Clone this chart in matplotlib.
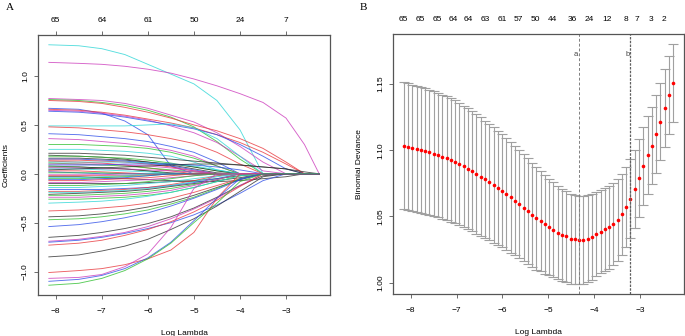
import numpy as np
import matplotlib
matplotlib.use('Agg')
import matplotlib.pyplot as plt

plt.rcParams['font.family'] = ['Liberation Sans', 'DejaVu Sans']
font_size = 6

# ---------------- panel A : lasso coefficient paths ----------------
# coefficient values at these log(lambda) knots
# (a path is zero from its last listed value onwards)
knots = [-8.15, -7.5, -7.0, -6.5, -6.0, -5.5, -5.0, -4.5, -4.0, -3.5, -3.0, -2.6, -2.28]
coef_paths = [
    [1.32, 1.31, 1.28, 1.22, 1.12, 1.02, 0.92, 0.75, 0.45, 0.0],
    [1.14, 1.13, 1.12, 1.10, 1.07, 1.03, 0.97, 0.90, 0.82, 0.73, 0.57, 0.30, 0.0],
    [0.77, 0.76, 0.75, 0.72, 0.67, 0.60, 0.53, 0.42, 0.28, 0.12, 0.0],
    [0.76, 0.75, 0.73, 0.70, 0.65, 0.58, 0.48, 0.33, 0.15, 0.0],
    [0.75, 0.74, 0.72, 0.68, 0.63, 0.57, 0.50, 0.44, 0.36, 0.26, 0.12, 0.0],
    [0.67, 0.66, 0.62, 0.54, 0.40, 0.08, 0.0],
    [0.66, 0.65, 0.63, 0.60, 0.56, 0.52, 0.47, 0.40, 0.32, 0.22, 0.10, 0.0],
    [0.65, 0.64, 0.62, 0.59, 0.55, 0.49, 0.42, 0.32, 0.18, 0.03, 0.0],
    [0.64, 0.63, 0.61, 0.58, 0.54, 0.50, 0.46, 0.40, 0.30, 0.18, 0.05, 0.0],
    [0.49, 0.49, 0.49, 0.49, 0.50, 0.51, 0.47, 0.36, 0.18, 0.0],
    [0.48, 0.47, 0.45, 0.43, 0.40, 0.36, 0.31, 0.22, 0.10, 0.0],
    [0.41, 0.40, 0.38, 0.36, 0.33, 0.28, 0.22, 0.12, 0.0],
    [0.36, 0.35, 0.33, 0.31, 0.28, 0.24, 0.18, 0.08, 0.0],
    [0.30, 0.30, 0.29, 0.28, 0.26, 0.22, 0.16, 0.08, 0.0],
    [0.25, 0.25, 0.24, 0.23, 0.21, 0.18, 0.12, 0.04, 0.0],
    [0.21, 0.21, 0.20, 0.19, 0.17, 0.15, 0.13, 0.11, 0.09, 0.07, 0.05, 0.02, 0.0],
    [0.19, 0.18, 0.17, 0.15, 0.12, 0.09, 0.05, 0.01, 0.0],
    [0.18, 0.18, 0.17, 0.16, 0.14, 0.11, 0.07, 0.03, 0.0],
    [0.16, 0.16, 0.15, 0.14, 0.12, 0.10, 0.07, 0.03, 0.0],
    [0.15, 0.15, 0.14, 0.13, 0.11, 0.08, 0.04, 0.0],
    [0.14, 0.14, 0.13, 0.12, 0.10, 0.07, 0.03, 0.0],
    [0.13, 0.12, 0.11, 0.09, 0.06, 0.03, 0.0],
    [0.12, 0.12, 0.12, 0.12, 0.11, 0.10, 0.08, 0.04, 0.0],
    [0.11, 0.10, 0.09, 0.08, 0.06, 0.04, 0.02, 0.0],
    [0.10, 0.10, 0.10, 0.09, 0.08, 0.06, 0.03, 0.0],
    [0.09, 0.09, 0.09, 0.10, 0.10, 0.10, 0.09, 0.07, 0.04, 0.0],
    [0.08, 0.07, 0.06, 0.05, 0.03, 0.0],
    [0.07, 0.07, 0.06, 0.05, 0.03, 0.01, 0.0],
    [0.06, 0.06, 0.05, 0.05, 0.04, 0.03, 0.02, 0.0],
    [0.05, 0.05, 0.04, 0.03, 0.02, 0.0],
    [0.04, 0.05, 0.06, 0.07, 0.08, 0.09, 0.10, 0.10, 0.09, 0.07, 0.05, 0.0],
    [0.03, 0.03, 0.02, 0.01, 0.0],
    [0.02, 0.01, 0.0],
    [0.01, 0.01, 0.01, 0.0],
    [-0.01, -0.01, -0.01, 0.0],
    [-0.02, -0.02, -0.02, -0.02, -0.01, 0.0],
    [-0.03, -0.03, -0.04, -0.05, -0.06, -0.07, -0.08, -0.08, -0.07, -0.05, -0.03, 0.0],
    [-0.04, -0.04, -0.03, -0.02, 0.0],
    [-0.05, -0.05, -0.04, -0.03, -0.02, 0.0],
    [-0.06, -0.06, -0.05, -0.04, -0.02, 0.0],
    [-0.07, -0.07, -0.06, -0.05, -0.04, -0.02, 0.0],
    [-0.09, -0.09, -0.08, -0.07, -0.06, -0.04, -0.02, 0.0],
    [-0.10, -0.10, -0.10, -0.10, -0.09, -0.08, -0.07, -0.05, -0.02, 0.0],
    [-0.12, -0.12, -0.11, -0.10, -0.08, -0.05, -0.02, 0.0],
    [-0.14, -0.14, -0.13, -0.12, -0.10, -0.08, -0.05, -0.02, 0.0],
    [-0.16, -0.16, -0.16, -0.15, -0.14, -0.12, -0.09, -0.05, 0.0],
    [-0.18, -0.18, -0.17, -0.16, -0.14, -0.11, -0.07, -0.02, 0.0],
    [-0.19, -0.19, -0.18, -0.17, -0.15, -0.12, -0.08, -0.03, 0.0],
    [-0.21, -0.20, -0.19, -0.18, -0.16, -0.13, -0.10, -0.07, -0.04, 0.0],
    [-0.22, -0.22, -0.21, -0.20, -0.18, -0.15, -0.11, -0.06, 0.0],
    [-0.24, -0.24, -0.23, -0.22, -0.20, -0.17, -0.12, -0.06, 0.0],
    [-0.26, -0.26, -0.25, -0.24, -0.22, -0.19, -0.14, -0.08, -0.02, 0.0],
    [-0.30, -0.29, -0.28, -0.26, -0.23, -0.19, -0.14, -0.08, -0.02, 0.0],
    [-0.38, -0.37, -0.35, -0.33, -0.30, -0.25, -0.19, -0.12, -0.05, 0.0],
    [-0.44, -0.43, -0.41, -0.38, -0.34, -0.29, -0.22, -0.14, -0.06, 0.0],
    [-0.47, -0.46, -0.44, -0.41, -0.37, -0.31, -0.24, -0.15, -0.05, 0.0],
    [-0.54, -0.52, -0.49, -0.45, -0.40, -0.33, -0.25, -0.16, -0.06, 0.0],
    [-0.65, -0.63, -0.60, -0.56, -0.51, -0.44, -0.35, -0.24, -0.12, -0.02, 0.0],
    [-0.69, -0.67, -0.64, -0.60, -0.54, -0.46, -0.36, -0.25, -0.12, 0.0],
    [-0.70, -0.68, -0.65, -0.61, -0.56, -0.50, -0.42, -0.32, -0.20, -0.07, 0.0],
    [-0.73, -0.71, -0.68, -0.63, -0.57, -0.49, -0.39, -0.27, -0.13, 0.0],
    [-0.85, -0.83, -0.79, -0.74, -0.67, -0.57, -0.46, -0.33, -0.18, -0.03, 0.0],
    [-1.01, -0.99, -0.97, -0.93, -0.87, -0.78, -0.60, -0.25, 0.0],
    [-1.07, -1.06, -1.03, -0.95, -0.82, -0.55, -0.15, 0.0],
    [-1.10, -1.08, -1.04, -0.97, -0.86, -0.70, -0.48, -0.25, -0.05, 0.0],
    [-1.14, -1.12, -1.07, -0.99, -0.87, -0.71, -0.50, -0.30, -0.08, 0.0],
]
path_colors = list('cmmgrbrmbcrbmgckkgkbrrcgmbgkmckrbgmrkcgbrmkgcbrckgmgcrkgbkmbrkrmbgg')
top_at_a = [-8, -7, -6, -5, -4, -3]
top_df_a = ['65', '64', '61', '50', '24', '7']

# ---------------- panel B : cross-validation curve ----------------
log_lambda = [-8.150, -8.057, -7.964, -7.870, -7.777, -7.684, -7.591, -7.498,
              -7.405, -7.311, -7.218, -7.125, -7.032, -6.939, -6.846, -6.752,
              -6.659, -6.566, -6.473, -6.380, -6.287, -6.193, -6.100, -6.007,
              -5.914, -5.821, -5.728, -5.634, -5.541, -5.448, -5.355, -5.262,
              -5.169, -5.075, -4.982, -4.889, -4.796, -4.703, -4.610, -4.516,
              -4.423, -4.330, -4.237, -4.144, -4.051, -3.957, -3.864, -3.771,
              -3.678, -3.585, -3.491, -3.398, -3.305, -3.212, -3.119, -3.026,
              -2.933, -2.839, -2.746, -2.653, -2.560, -2.467, -2.374, -2.280]
cv_mean = [1.1033, 1.1025, 1.1018, 1.1010, 1.1003, 1.0995, 1.0985, 1.0975,
           1.0965, 1.0952, 1.0939, 1.0927, 1.0912, 1.0894, 1.0879, 1.0861,
           1.0841, 1.0821, 1.0801, 1.0780, 1.0760, 1.0740, 1.0717, 1.0694,
           1.0669, 1.0644, 1.0619, 1.0593, 1.0566, 1.0540, 1.0513, 1.0487,
           1.0465, 1.0439, 1.0419, 1.0399, 1.0376, 1.0361, 1.0349, 1.0333,
           1.0326, 1.0323, 1.0323, 1.0331, 1.0346, 1.0369, 1.0386, 1.0402,
           1.0419, 1.0444, 1.0475, 1.0518, 1.0573, 1.0634, 1.0707, 1.0790,
           1.0879, 1.0962, 1.1035, 1.1121, 1.1217, 1.1316, 1.1419, 1.1510]
cv_sd = [0.0480, 0.0480, 0.0478, 0.0478, 0.0477, 0.0473, 0.0472, 0.0470,
         0.0470, 0.0468, 0.0467, 0.0466, 0.0465, 0.0461, 0.0458, 0.0457,
         0.0453, 0.0451, 0.0447, 0.0443, 0.0439, 0.0437, 0.0432, 0.0427,
         0.0424, 0.0419, 0.0414, 0.0409, 0.0404, 0.0399, 0.0394, 0.0388,
         0.0380, 0.0372, 0.0365, 0.0358, 0.0352, 0.0347, 0.0343, 0.0340,
         0.0337, 0.0335, 0.0333, 0.0328, 0.0323, 0.0318, 0.0316, 0.0315,
         0.0313, 0.0311, 0.0308, 0.0306, 0.0303, 0.0300, 0.0298, 0.0295,
         0.0293, 0.0293, 0.0293, 0.0293, 0.0293, 0.0295, 0.0295, 0.0295]
top_at_b = [-8.17, -7.78, -7.43, -7.07, -6.74, -6.37, -6.00, -5.65, -5.28,
            -4.91, -4.48, -4.11, -3.72, -3.30, -3.07, -2.76, -2.48]
top_df_b = ['65', '65', '65', '64', '64', '63', '61', '57', '50',
            '44', '36', '24', '12', '8', '7', '3', '2']
idx_min = 41
idx_1se = 53

colmap = {'k': '#303030', 'r': '#e8383d', 'g': '#2fbf2f', 'b': '#2f4fe8',
          'c': '#2fd6d6', 'm': '#cc3cbc'}
axis_col = '#555555'


def style_axes(ax):
    for sp in ax.spines.values():
        sp.set_color(axis_col)
        sp.set_linewidth(0.9)
    ax.tick_params(direction='out', length=3, width=0.6, color=axis_col,
                   labelsize=font_size, pad=6.5)
    ax.tick_params(axis='y', labelrotation=90, pad=3.5)
    for lab in ax.get_yticklabels():
        lab.set_va('center')


fig = plt.figure(figsize=(6.85, 3.36), dpi=100)

# panel A
axA = fig.add_axes([38 / 685, 41 / 336, 292 / 685, 260 / 336])
for vals, c in zip(coef_paths, path_colors):
    y = vals + [0.0] * (len(knots) - len(vals))
    axA.plot(knots, y, color=colmap[c], lw=0.65, alpha=0.8)
axA.set_xlim(-8.385, -2.045)
axA.set_ylim(-1.24, 1.42)
axA.set_xticks([-8, -7, -6, -5, -4, -3])
axA.set_yticks([-1.0, -0.5, 0.0, 0.5, 1.0])
axA.set_yticklabels(['\u22121.0', '\u22120.5', '0.0', '0.5', '1.0'])
style_axes(axA)
axA.set_xlabel('Log Lambda', fontsize=font_size, labelpad=11)
axA.set_ylabel('Coefficients', fontsize=font_size, labelpad=9)
topA = axA.secondary_xaxis('top')
topA.set_xticks(top_at_a, top_df_a)
topA.tick_params(direction='out', length=3, width=0.6, color=axis_col,
                 labelsize=font_size, pad=5)
topA.spines['top'].set_visible(False)

# panel B
axB = fig.add_axes([393 / 685, 42 / 336, 291 / 685, 260 / 336])
axB.errorbar(log_lambda, cv_mean, yerr=cv_sd, fmt='none', ecolor='#a0a0a0',
             elinewidth=0.8, capsize=3.9, capthick=0.8)
axB.plot(log_lambda, cv_mean, 'o', color='red', ms=2.6, mec='none')
lam_a = log_lambda[idx_min]
lam_b = log_lambda[idx_1se]
axB.axvline(lam_a, color='#808080', lw=0.7, ls=(0, (3, 2)))
axB.axvline(lam_b, color='#606060', lw=0.9, ls=(0, (2, 1)))
axB.text(lam_a - 0.02, 1.172, 'a', ha='right', va='center', fontsize=5.5, color='#444444')
axB.text(lam_b - 0.02, 1.172, 'b', ha='right', va='center', fontsize=5.5, color='#444444')
axB.set_xlim(-8.385, -2.045)
axB.set_ylim(0.9914, 1.1878)
axB.set_xticks([-8, -7, -6, -5, -4, -3])
axB.set_yticks([1.00, 1.05, 1.10, 1.15])
axB.set_yticklabels(['1.00', '1.05', '1.10', '1.15'])
style_axes(axB)
axB.set_xlabel('Log Lambda', fontsize=font_size, labelpad=11)
axB.set_ylabel('Binomial Deviance', fontsize=font_size, labelpad=10)
topB = axB.secondary_xaxis('top')
topB.set_xticks(top_at_b, top_df_b)
topB.tick_params(length=0, labelsize=font_size, pad=8)
topB.spines['top'].set_visible(False)

# x tick labels use the same minus sign as R
for ax in (axA, axB):
    ax.set_xticklabels(['\u22128', '\u22127', '\u22126', '\u22125', '\u22124', '\u22123'])

fig.text(10 / 685, 1 - 7 / 336, 'A', family='Liberation Serif', fontsize=8,
         ha='center', va='center')
fig.text(363 / 685, 1 - 7 / 336, 'B', family='Liberation Serif', fontsize=8,
         ha='center', va='center')

fig.savefig('out.png', dpi=100)
